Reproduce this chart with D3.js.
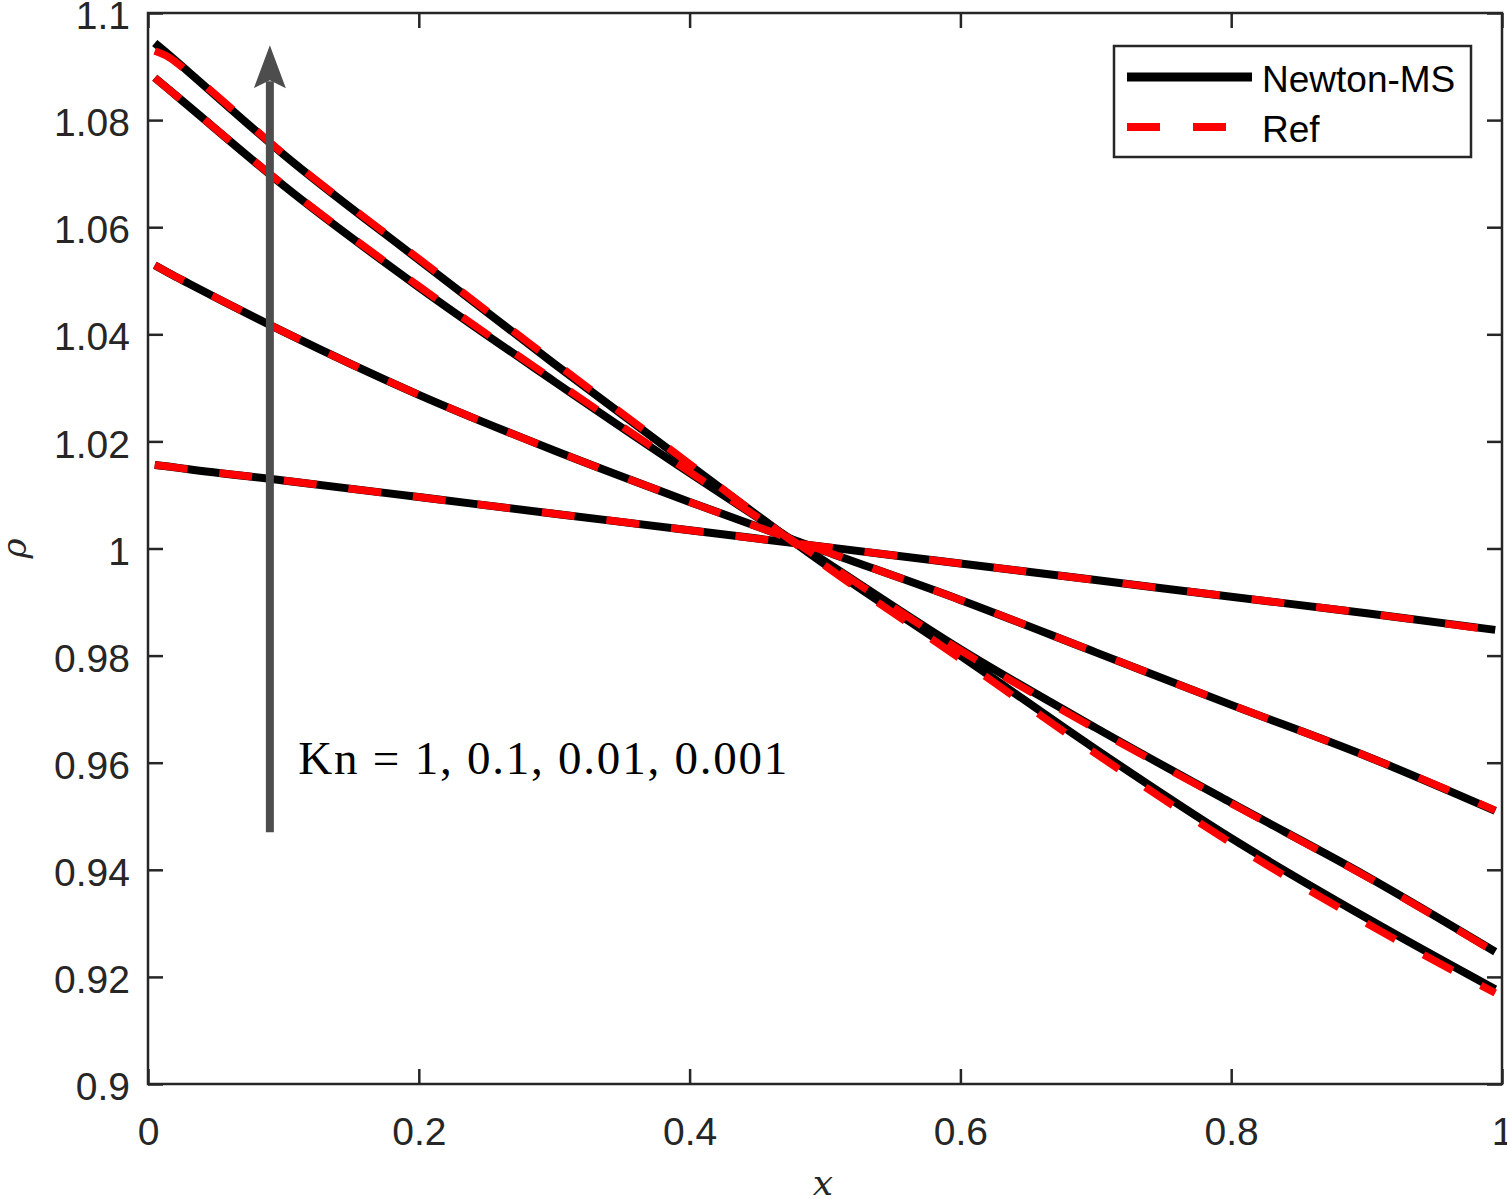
<!DOCTYPE html>
<html>
<head>
<meta charset="utf-8">
<script src="https://cdn.jsdelivr.net/npm/d3@7"></script>
<style>
  html, body { margin: 0; padding: 0; background: #fff; }
  svg { display: block; }
  .axis text { font-family: 'Liberation Sans', Arial, sans-serif; font-size: 39px; fill: #262626; }
  .axis line { stroke: #262626; stroke-width: 2.5; }
  .legend text { font-family: 'Liberation Sans', Arial, sans-serif; font-size: 37px; fill: #000; }
</style>
</head>
<body>
<script>
(function () {
  'use strict'

  // grid points (cell centres) and density profiles
  var xs = [0.005, 0.015, 0.03, 0.1, 0.2, 0.3, 0.4, 0.5, 0.6, 0.7, 0.8, 0.9, 0.995]

  var newtonKn1 = [1.0156, 1.0153, 1.0148, 1.0127, 1.0096, 1.0065, 1.0034, 1.0003, 0.9972, 0.9941, 0.9910, 0.9879, 0.9848]
  var refKn1 = [1.0156, 1.0153, 1.0148, 1.0127, 1.0096, 1.0065, 1.0034, 1.0003, 0.9972, 0.9941, 0.9910, 0.9879, 0.9847]

  var newtonKn01 = [1.0529, 1.0515, 1.0495, 1.0405, 1.0287, 1.0183, 1.0087, 0.9995, 0.9904, 0.9806, 0.9708, 0.9612, 0.9510]
  var refKn01 = [1.0529, 1.0515, 1.0495, 1.0405, 1.0287, 1.0183, 1.0087, 0.9995, 0.9904, 0.9806, 0.9708, 0.9612, 0.9511]

  var newtonKn001 = [1.0879, 1.0858, 1.0826, 1.0678, 1.0488, 1.0312, 1.0141, 0.9976, 0.9812, 0.9665, 0.9525, 0.9388, 0.9247]
  var refKn001 = [1.0879, 1.0858, 1.0826, 1.0679, 1.0490, 1.0314, 1.0143, 0.9975, 0.9810, 0.9663, 0.9524, 0.9387, 0.9246]

  var newtonKn0001 = [1.0944, 1.0923, 1.0890, 1.0736, 1.0539, 1.0345, 1.0156, 0.9970, 0.9800, 0.9625, 0.9459, 0.9310, 0.9177]
  var refKn0001 = [1.0929, 1.0918, 1.0889, 1.0737, 1.0541, 1.0348, 1.0158, 0.9968, 0.9794, 0.9617, 0.9450, 0.9300, 0.9170]

  var newtonSeries = [newtonKn1, newtonKn01, newtonKn001, newtonKn0001]
  var refSeries = [refKn1, refKn01, refKn001, refKn0001]

  var xTicks = [0, 0.2, 0.4, 0.6, 0.8, 1]
  var yTicks = [0.9, 0.92, 0.94, 0.96, 0.98, 1, 1.02, 1.04, 1.06, 1.08, 1.1]
  var legendLabels = ['Newton-MS', 'Ref']
  var annotation = 'Kn = 1, 0.1, 0.01, 0.001'
  var arrowAt = { x: 0.09, from: 0.947, to: 1.094 }
  var textAt = { x: 0.111, y: 0.9578 }

  var dim = { w: 1507, h: 1199 }
  var margin = { left: 148, top: 13, right: 5, bottom: 115 }
  var w = dim.w - margin.left - margin.right
  var h = dim.h - margin.top - margin.bottom

  var svg = d3.select('body').append('svg')
    .attr('width', dim.w)
    .attr('height', dim.h)

  var g = svg.append('g')
    .attr('transform', 'translate(' + margin.left + ',' + margin.top + ')')

  var x = d3.scaleLinear().domain([0, 1]).range([0, w])
  var y = d3.scaleLinear().domain([0.9, 1.1]).range([h, 0])

  g.append('clipPath').attr('id', 'clip')
    .append('rect').attr('width', w).attr('height', h)

  var line = d3.line()
    .x(function (d, i) { return x(xs[i]) })
    .y(function (d) { return y(d) })
    .curve(d3.curveMonotoneX)

  var chart = g.append('g').attr('clip-path', 'url(#clip)')

  chart.selectAll('.newton').data(newtonSeries)
    .enter().append('path')
      .attr('class', 'newton')
      .attr('d', line)
      .attr('fill', 'none')
      .attr('stroke', '#000')
      .attr('stroke-width', 8)

  chart.selectAll('.ref').data(refSeries)
    .enter().append('path')
      .attr('class', 'ref')
      .attr('d', line)
      .attr('fill', 'none')
      .attr('stroke', '#ff0000')
      .attr('stroke-width', 7.5)
      .attr('stroke-dasharray', '33,32')

  // arrow + Kn note
  var ax = x(arrowAt.x)
  var tipY = y(arrowAt.to)
  g.append('line')
    .attr('x1', ax).attr('x2', ax)
    .attr('y1', y(arrowAt.from)).attr('y2', tipY + 36)
    .attr('stroke', '#4d4d4d')
    .attr('stroke-width', 8)
  g.append('path')
    .attr('d', 'M' + ax + ',' + tipY + 'L' + (ax + 16) + ',' + (tipY + 43) +
      'L' + ax + ',' + (tipY + 35) + 'L' + (ax - 16) + ',' + (tipY + 43) + 'Z')
    .attr('fill', '#4d4d4d')

  g.append('text')
    .attr('x', x(textAt.x))
    .attr('y', y(textAt.y))
    .attr('font-family', "'Liberation Serif', 'DejaVu Serif', serif")
    .attr('font-size', 47)
    .attr('textLength', 489)
    .attr('lengthAdjust', 'spacing')
    .attr('fill', '#000')
    .text(annotation)

  // axes, ticks inward on all four sides
  var fmt = function (d) { return d3.format('~g')(d) }
  g.append('g').attr('class', 'axis')
    .call(d3.axisLeft(y).tickValues(yTicks).tickFormat(fmt)
      .tickSizeInner(-15).tickSizeOuter(0).tickPadding(18))
    .selectAll('text').attr('dy', '0.4em')
  g.append('g').attr('class', 'axis')
    .attr('transform', 'translate(' + w + ',0)')
    .call(d3.axisRight(y).tickValues(yTicks).tickFormat('')
      .tickSizeInner(-15).tickSizeOuter(0))
  g.append('g').attr('class', 'axis')
    .attr('transform', 'translate(0,' + h + ')')
    .call(d3.axisBottom(x).tickValues(xTicks).tickFormat(fmt)
      .tickSizeInner(-15).tickSizeOuter(0).tickPadding(33))
  g.append('g').attr('class', 'axis')
    .call(d3.axisTop(x).tickValues(xTicks).tickFormat('')
      .tickSizeInner(-15).tickSizeOuter(0))
  g.selectAll('.axis .domain').remove()

  g.append('rect')
    .attr('width', w).attr('height', h)
    .attr('fill', 'none')
    .attr('stroke', '#262626')
    .attr('stroke-width', 2.5)

  // axis labels
  g.append('text')
    .attr('x', w / 2 - 2)
    .attr('y', h + 111)
    .attr('text-anchor', 'middle')
    .attr('font-family', "'DejaVu Serif', 'Liberation Serif', serif")
    .attr('font-style', 'italic')
    .attr('font-size', 36)
    .attr('fill', '#262626')
    .text('x')
  g.append('text')
    .attr('transform', 'translate(' + (-122) + ',' + (h / 2) + ') rotate(-90)')
    .attr('text-anchor', 'middle')
    .attr('font-family', "'DejaVu Serif', 'Liberation Serif', serif")
    .attr('font-style', 'italic')
    .attr('font-size', 34)
    .attr('fill', '#262626')
    .text('ρ')

  // legend
  var lg = svg.append('g').attr('class', 'legend')
    .attr('transform', 'translate(1114,46)')
  lg.append('rect')
    .attr('width', 357).attr('height', 111)
    .attr('fill', '#fff')
    .attr('stroke', '#262626')
    .attr('stroke-width', 2.5)
  lg.selectAll('.item').data(legendLabels)
    .enter().append('g')
      .attr('class', 'item')
      .attr('transform', function (d, i) { return 'translate(0,' + (31 + i * 50) + ')' })
      .each(function (d, i) {
        var item = d3.select(this)
        item.append('line')
          .attr('x1', 13).attr('x2', 138)
          .attr('stroke', i === 0 ? '#000' : '#ff0000')
          .attr('stroke-width', i === 0 ? 9 : 8)
          .attr('stroke-dasharray', i === 0 ? null : '33,33')
        item.append('text')
          .attr('x', 148).attr('y', 15)
          .text(d)
      })
}())
</script>
</body>
</html>
